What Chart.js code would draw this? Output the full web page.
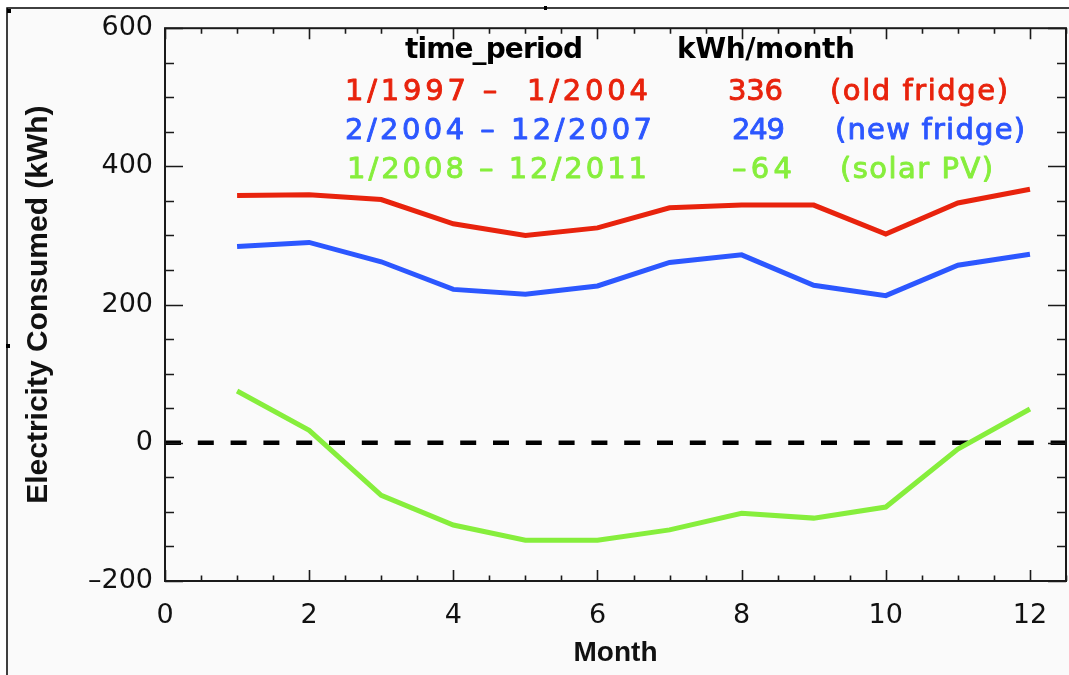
<!DOCTYPE html>
<html>
<head>
<meta charset="utf-8">
<script src="https://cdn.jsdelivr.net/npm/chart.js@4/dist/chart.umd.min.js"></script>
<style>
  html, body { margin: 0; padding: 0; background: #ffffff; }
  #wrap { width: 1069px; height: 675px; position: relative; }
  canvas { display: block; }
</style>
</head>
<body>
<div id="wrap"><canvas id="c" width="1069" height="675"></canvas></div>
<script>
// ---- data ----
const months = [1, 2, 3, 4, 5, 6, 7, 8, 9, 10, 11, 12];
const oldFridge = [358, 359, 352, 317, 300, 311, 340, 344, 344, 302, 347, 367];
const newFridge = [284, 290, 262, 222, 215, 227, 261, 272, 228, 213, 257, 273];
const solarPV   = [75, 18, -76, -119, -141, -141, -126, -102, -109, -93, -9, 49];
const xTickValues = [0, 2, 4, 6, 8, 10, 12];
const yTickValues = [-200, 0, 200, 400, 600];
const headers = ['time_period', 'kWh/month'];
const periods = ['1/1997 \u2013  1/2004', '2/2004 \u2013 12/2007', '1/2008 \u2013 12/2011'];
const averages = ['336', '249', '\u201364'];
const notes = ['(old fridge)', '(new fridge)', '(solar PV)'];
const zeroLevel = 0;

// ---- styles ----
const RED = '#e8230d';
const BLUE = '#2c57ff';
const GREEN = '#86ee3c';
const seriesColors = [RED, BLUE, GREEN];
const X_MIN = 0, X_MAX = 12.5, Y_MIN = -200, Y_MAX = 600;

function pts(vals) { return months.map((m, i) => ({ x: m, y: vals[i] })); }

function fitText(ctx, text, x, y, width, font, color, stroke) {
  ctx.font = font;
  ctx.fillStyle = color;
  ctx.strokeStyle = color;
  ctx.textAlign = 'left';
  ctx.textBaseline = 'alphabetic';
  ctx.letterSpacing = '0px';
  const w0 = ctx.measureText(text).width;
  const n = [...text].length;
  const ls = n > 1 ? (width - w0) / (n - 1) : 0;
  ctx.letterSpacing = ls + 'px';
  ctx.fillText(text, x, y);
  if (stroke) { ctx.lineWidth = stroke; ctx.lineJoin = 'round'; ctx.strokeText(text, x, y); }
  ctx.letterSpacing = '0px';
}

const decor = {
  id: 'decor',
  beforeDraw(chart) {
    const ctx = chart.ctx;
    ctx.save();
    ctx.fillStyle = '#ffffff';
    ctx.fillRect(0, 0, chart.width, chart.height);
    ctx.fillStyle = '#fafafa';
    ctx.fillRect(8, 9, chart.width - 8, chart.height - 9);
    ctx.strokeStyle = '#000';
    ctx.lineWidth = 1.5;
    ctx.beginPath();
    ctx.moveTo(7, chart.height); ctx.lineTo(7, 8); ctx.lineTo(chart.width, 8);
    ctx.stroke();
    ctx.fillStyle = '#000';
    ctx.fillRect(7, 9, 4, 4);
    ctx.fillRect(544, 6, 3, 4);
    ctx.fillRect(6, 344, 4, 4);
    ctx.restore();
  },
  afterDatasetsDraw(chart) {
    const ctx = chart.ctx;
    const a = chart.chartArea;
    const xs = chart.scales.x, ys = chart.scales.y;
    ctx.save();
    ctx.strokeStyle = '#1a1a1a';
    ctx.lineWidth = 2;
    ctx.strokeRect(a.left, a.top, a.right - a.left, a.bottom - a.top);
    ctx.lineWidth = 1.6;
    ctx.beginPath();
    for (let v = X_MIN; v <= X_MAX + 1e-9; v += 0.5) {
      const px = Math.round(xs.getPixelForValue(v)) + 0.5;
      const len = (v % 2 === 0) ? 11 : 5.5;
      ctx.moveTo(px, a.bottom); ctx.lineTo(px, a.bottom - len);
      ctx.moveTo(px, a.top); ctx.lineTo(px, a.top + len);
    }
    for (let v = Y_MIN; v <= Y_MAX + 1e-9; v += 50) {
      const py = Math.round(ys.getPixelForValue(v)) + 0.5;
      const len = (v % 200 === 0) ? 18 : 9;
      ctx.moveTo(a.left, py); ctx.lineTo(a.left + len, py);
      ctx.moveTo(a.right, py); ctx.lineTo(a.right - len, py);
    }
    ctx.stroke();
    ctx.restore();
  },
  afterDraw(chart) {
    const ctx = chart.ctx;
    ctx.save();
    const hFont = 'bold 28px "DejaVu Sans"';
    const tFont = '29px "DejaVu Sans"';
    fitText(ctx, headers[0], 405, 58, 178, hFont, '#000', 0);
    fitText(ctx, headers[1], 677, 58, 178, hFont, '#000', 0);
    const baselines = [100, 139, 178];
    const pX = [345, 345, 347], pW = [303, 307, 300];
    const vX = [728, 732, 732], vW = [55, 53, 60];
    const nX = [830, 835, 840], nW = [178, 190, 153];
    for (let i = 0; i < periods.length; i++) {
      fitText(ctx, periods[i], pX[i], baselines[i], pW[i], tFont, seriesColors[i], 0.9);
      fitText(ctx, averages[i], vX[i], baselines[i], vW[i], tFont, seriesColors[i], 0.9);
      fitText(ctx, notes[i], nX[i], baselines[i], nW[i], tFont, seriesColors[i], 0.9);
    }
    ctx.restore();
  }
};

new Chart(document.getElementById('c'), {
  type: 'line',
  data: {
    datasets: [
      { label: 'old fridge', data: pts(oldFridge), borderColor: RED, borderWidth: 5, pointRadius: 0, tension: 0, fill: false },
      { label: 'new fridge', data: pts(newFridge), borderColor: BLUE, borderWidth: 5, pointRadius: 0, tension: 0, fill: false },
      { label: 'solar PV', data: pts(solarPV), borderColor: GREEN, borderWidth: 5, pointRadius: 0, tension: 0, fill: false },
      { label: 'zero', data: [{ x: X_MIN, y: zeroLevel }, { x: X_MAX, y: zeroLevel }], borderColor: '#000', borderWidth: 4.5, borderDash: [16, 16.8], borderCapStyle: 'butt', pointRadius: 0, fill: false }
    ]
  },
  options: {
    responsive: false,
    devicePixelRatio: 1,
    animation: false,
    layout: { padding: { top: 25, right: 3, left: 0, bottom: 0 } },
    plugins: { legend: { display: false }, tooltip: { enabled: false } },
    scales: {
      x: {
        type: 'linear', position: 'bottom', min: X_MIN, max: X_MAX,
        afterBuildTicks: s => { s.ticks = xTickValues.map(v => ({ value: v })); },
        afterFit: s => { s.height = 94; },
        grid: { display: false, drawTicks: false },
        border: { display: false },
        ticks: { padding: 19, maxRotation: 0, autoSkip: false, color: '#111', font: { family: '"DejaVu Sans"', size: 27 } },
        title: { display: true, text: 'Month', color: '#111', font: { family: '"Liberation Sans"', size: 28, weight: 'bold' }, padding: { top: 0, bottom: 5 } }
      },
      y: {
        type: 'linear', position: 'left', min: Y_MIN, max: Y_MAX,
        afterBuildTicks: s => { s.ticks = yTickValues.map(v => ({ value: v })); },
        afterFit: s => { s.width = 165; },
        grid: { display: false, drawTicks: false },
        border: { display: false },
        ticks: { padding: 12, color: '#111', font: { family: '"DejaVu Sans"', size: 27 },
          callback: v => String(v).replace('-', '\u2013') },
        title: { display: true, text: 'Electricity Consumed (kWh)', color: '#111', font: { family: '"Liberation Sans"', size: 30, weight: 'bold' }, padding: { top: 21, bottom: 0 } }
      }
    }
  },
  plugins: [decor]
});
</script>
</body>
</html>
